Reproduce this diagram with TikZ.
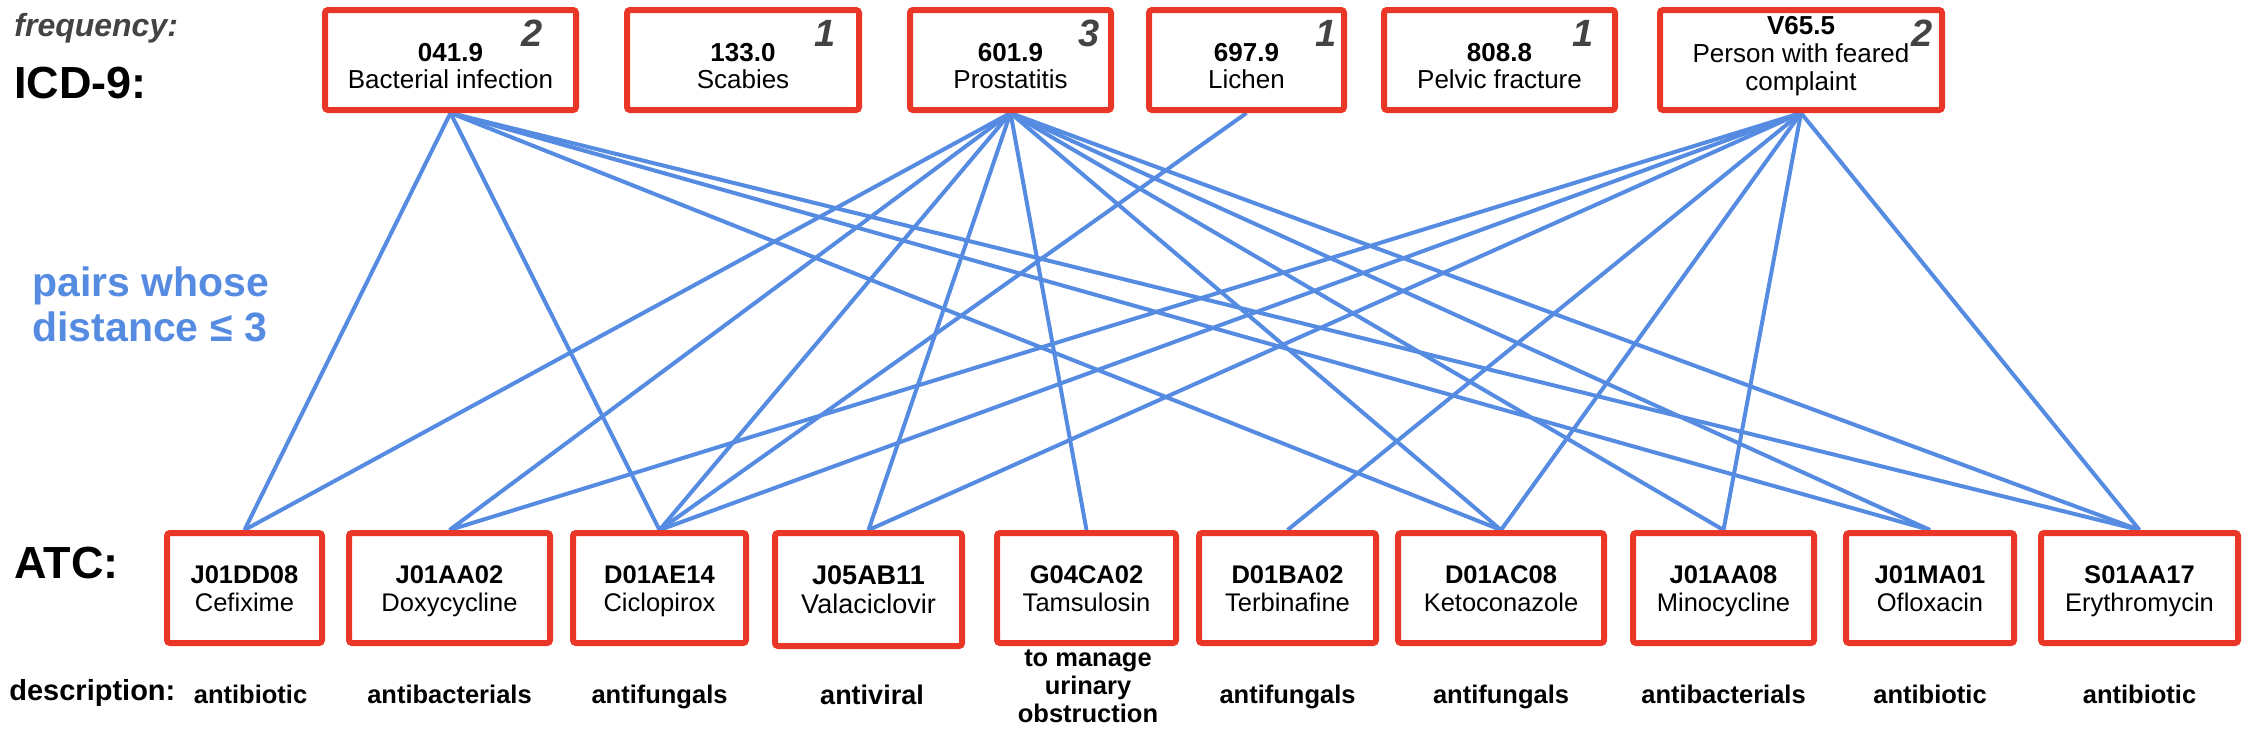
\documentclass[tikz,border=0pt]{standalone}
\usepackage{fontspec}
\setmainfont{Liberation Sans}
\usetikzlibrary{backgrounds,shadows}
\definecolor{boxred}{RGB}{233,54,38}
\definecolor{edgeblue}{RGB}{86,139,226}
\definecolor{freqgray}{RGB}{67,67,67}
\begin{document}
\begin{tikzpicture}[x=0.5pt,y=-0.5pt,
  box/.style={draw=boxred, line width=3pt, fill=white, rounded corners=1.5pt, inner sep=0pt,
    minimum height=50pt, drop shadow={opacity=0.12, shadow xshift=0.6pt, shadow yshift=-0.8pt}},
  bbox/.style={box, minimum height=55pt},
  txt/.style={inner sep=0pt, anchor=base},
  tcode/.style={txt, font=\bfseries\fontsize{13}{15}\selectfont},
  tname/.style={txt, font=\fontsize{13}{15}\selectfont},
  bcode/.style={txt, font=\bfseries\fontsize{12.75}{15}\selectfont},
  bname/.style={txt, font=\fontsize{12.75}{15}\selectfont},
  desc/.style={txt, font=\bfseries\fontsize{12.75}{15}\selectfont},
  freq/.style={inner sep=0pt, anchor=base east, text=freqgray, font=\bfseries\itshape\fontsize{19}{22}\selectfont},
  head/.style={inner sep=0pt, anchor=base west, font=\bfseries\fontsize{22.5}{26}\selectfont},
  edge/.style={draw=edgeblue, line width=2pt}
]
\useasboundingbox (0,0) rectangle (2252,736);

% left labels
\node[inner sep=0pt, anchor=base west, text=freqgray, font=\bfseries\itshape\fontsize{16}{19}\selectfont] (freqlbl) at (14,36) {frequency:};
\node[head] (icdlbl) at (14,98) {ICD-9:};
\node[head] (atclbl) at (14,578) {ATC:};
\node[inner sep=0pt, anchor=base west, font=\bfseries\fontsize{14.5}{17}\selectfont] (desclbl) at (9,700) {description:};
\node[inner sep=0pt, anchor=base west, text=edgeblue, font=\bfseries\fontsize{20.5}{24}\selectfont] (pairs1) at (32,296) {pairs whose};
\node[inner sep=0pt, anchor=base west, text=edgeblue, font=\bfseries\fontsize{20.5}{24}\selectfont] (pairs2) at (32,341) {distance ≤ 3};

% ICD-9 boxes
\foreach \n/\x/\w/\cd/\nm/\fq/\fx in {
  t1/450.5/125.5/041.9/Bacterial infection/2/543,
  t2/743/116/133.0/Scabies/1/836,
  t3/1010.5/100.5/601.9/Prostatitis/3/1100,
  t4/1246.5/97.5/697.9/Lichen/1/1337,
  t5/1499.5/115.5/808.8/Pelvic fracture/1/1594}
{
  \node[box, minimum width=\w pt] (\n) at (\x,60) {};
  \node[tcode] (\n c) at (\x,61) {\cd};
  \node[tname] (\n n) at (\x,88) {\nm};
  \node[freq] (\n f) at (\fx,46) {\fq};
}
\node[box, minimum width=141pt] (t6) at (1801,60) {};
\node[tcode] (t6c) at (1801,34) {V65.5};
\node[tname] (t6n) at (1801,62) {Person with feared};
\node[tname] (t6m) at (1801,90) {complaint};
\node[freq] (t6f) at (1933,46) {2};

% ATC boxes
\foreach \n/\x/\dx/\w/\cd/\nm/\ds in {
  b1/244.5/6/77.5/J01DD08/Cefixime/antibiotic,
  b2/449.5/0/100.5/J01AA02/Doxycycline/antibacterials,
  b3/659.5/0/86.5/D01AE14/Ciclopirox/antifungals,
  b6/1287.5/0/88.5/D01BA02/Terbinafine/antifungals,
  b7/1501/0/103/D01AC08/Ketoconazole/antifungals,
  b8/1723.5/0/90.5/J01AA08/Minocycline/antibacterials,
  b9/1930/0/84/J01MA01/Ofloxacin/antibiotic,
  b10/2139.5/0/98.5/S01AA17/Erythromycin/antibiotic}
{
  \node[bbox, minimum width=\w pt] (\n) at (\x,588) {};
  \node[bcode] (\n c) at (\x,583) {\cd};
  \node[bname] (\n n) at (\x,611) {\nm};
  \node[desc] (\n d) at (\x+\dx,703) {\ds};
}
\node[bbox, minimum width=93.5pt, minimum height=56.5pt] (b4) at (868.5,589.5) {};
\node[txt, font=\bfseries\fontsize{13.5}{16}\selectfont] (b4c) at (868.5,584) {J05AB11};
\node[txt, font=\fontsize{13.5}{16}\selectfont] (b4n) at (868.5,613) {Valaciclovir};
\node[txt, font=\bfseries\fontsize{13.5}{16}\selectfont] (b4d) at (872,704) {antiviral};

\node[bbox, minimum width=89.5pt] (b5) at (1086.5,588) {};
\node[bcode] (b5c) at (1086.5,583) {G04CA02};
\node[bname] (b5n) at (1086.5,611) {Tamsulosin};
\node[desc] (b5d1) at (1088,666) {to manage};
\node[desc] (b5d2) at (1088,694) {urinary};
\node[desc] (b5d3) at (1088,722) {obstruction};

% edges
\begin{scope}[on background layer]
\foreach \a/\b in {t1/b1, t1/b3, t1/b7, t1/b9, t1/b10,
  t3/b1, t3/b2, t3/b3, t3/b4, t3/b5, t3/b7, t3/b8, t3/b9, t3/b10,
  t4/b3,
  t6/b2, t6/b3, t6/b4, t6/b6, t6/b7, t6/b8, t6/b10}
  \draw[edge] (\a.south) -- (\b.north);
\end{scope}
\end{tikzpicture}
\end{document}
